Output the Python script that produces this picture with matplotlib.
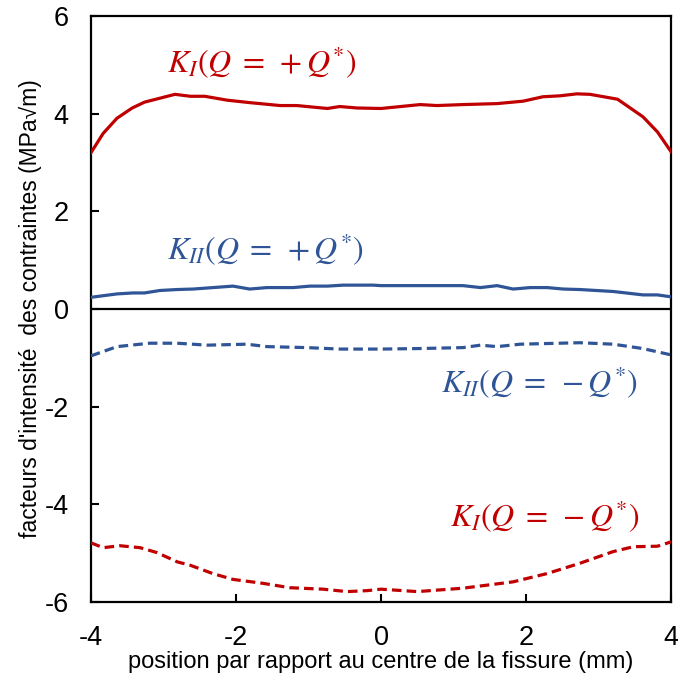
import matplotlib
matplotlib.use("Agg")
import matplotlib.pyplot as plt
import numpy as np

plt.rcParams['font.family'] = ['Liberation Sans', 'DejaVu Sans']
plt.rcParams['mathtext.fontset'] = 'stix'

# K_I (Q = +Q*)
ki_pos_x = [-4.0, -3.83, -3.64, -3.43, -3.26, -3.05, -2.84, -2.63, -2.43, -2.12, -1.81, -1.39,
            -1.16, -0.74, -0.57, -0.33, 0.0, 0.54, 0.77, 1.13, 1.6, 1.96, 2.23, 2.47, 2.70,
            2.88, 3.26, 3.61, 3.81, 4.0]
ki_pos_y = [3.20, 3.60, 3.91, 4.12, 4.24, 4.32, 4.40, 4.36, 4.36, 4.28, 4.23, 4.17,
            4.17, 4.11, 4.15, 4.12, 4.11, 4.19, 4.17, 4.19, 4.21, 4.26, 4.35, 4.37, 4.41,
            4.40, 4.30, 3.94, 3.63, 3.22]

# K_II (Q = +Q*)
kii_pos_x = [-4.0, -3.64, -3.42, -3.26, -3.05, -2.81, -2.59, -2.04, -1.81, -1.57, -1.21, -0.98,
             -0.74, -0.52, -0.11, 0.0, 0.44, 1.13, 1.37, 1.6, 1.82, 2.06, 2.29, 2.51, 2.74,
             3.2, 3.61, 3.81, 4.0]
kii_pos_y = [0.24, 0.31, 0.33, 0.33, 0.38, 0.40, 0.41, 0.47, 0.41, 0.44, 0.44, 0.47,
             0.47, 0.49, 0.49, 0.48, 0.48, 0.48, 0.44, 0.48, 0.41, 0.44, 0.44, 0.41, 0.40,
             0.36, 0.29, 0.29, 0.25]

# K_II (Q = -Q*)
kii_neg_x = [-4.0, -3.64, -3.19, -2.81, -2.4, -1.85, -1.57, -1.02, -0.57, 0.0, 0.5, 1.13,
             1.37, 1.6, 1.92, 2.74, 3.2, 3.61, 4.0]
kii_neg_y = [-0.96, -0.77, -0.70, -0.70, -0.74, -0.72, -0.77, -0.79, -0.82, -0.82, -0.81, -0.79,
             -0.74, -0.77, -0.72, -0.69, -0.72, -0.81, -0.94]

# K_I (Q = -Q*)
ki_neg_x = [-4.0, -3.83, -3.6, -3.32, -3.09, -2.81, -2.63, -2.32, -2.04, -1.63, -1.26, -0.8,
            -0.47, -0.19, 0.0, 0.5, 1.13, 1.82, 2.29, 2.74, 3.2, 3.48, 3.81, 4.0]
ki_neg_y = [-4.79, -4.89, -4.85, -4.89, -4.99, -5.18, -5.25, -5.42, -5.54, -5.62, -5.71, -5.74,
            -5.79, -5.77, -5.74, -5.79, -5.72, -5.59, -5.42, -5.21, -4.97, -4.87, -4.86, -4.77]

x_ticks = [-4, -2, 0, 2, 4]
y_ticks = [-6, -4, -2, 0, 2, 4, 6]

red = '#C00000'
blue = '#2F5597'

fig = plt.figure(figsize=(6.78, 6.77), dpi=100)
ax = fig.add_axes([0.134, 0.111, 0.856, 0.865])

ax.axhline(0, color='black', lw=1.6, zorder=1)
ax.plot(ki_pos_x, ki_pos_y, color=red, lw=2.3, zorder=3)
ax.plot(kii_pos_x, kii_pos_y, color=blue, lw=2.3, zorder=3)
ax.plot(kii_neg_x, kii_neg_y, color=blue, lw=2.3, ls=(0, (3.0, 1.6)), zorder=3)
ax.plot(ki_neg_x, ki_neg_y, color=red, lw=2.3, ls=(0, (3.0, 1.6)), zorder=3)

ax.set_xlim(-4, 4)
ax.set_ylim(-6, 6)
ax.set_xticks(x_ticks)
ax.set_yticks(y_ticks)
ax.set_xticklabels([str(v) for v in x_ticks])
ax.set_yticklabels([str(v) for v in y_ticks])
ax.tick_params(direction='in', length=6, width=1.5, labelsize=19.5)
ax.tick_params(axis='y', pad=16)
ax.tick_params(axis='x', pad=17)
for s in ax.spines.values():
    s.set_linewidth(1.6)

ax.set_xlabel('position par rapport au centre de la fissure (mm)', fontsize=17, labelpad=0)
ax.set_ylabel("facteurs d'intensité  des contraintes (MPa√m)", fontsize=16.5, labelpad=2)

fs = 23
ax.text(-1.64, 5.04, r'$K_I(Q\;=\;+Q^{*})$', color=red, fontsize=fs, ha='center', va='center')
ax.text(-1.59, 1.21, r'$K_{II}(Q\;=\;+Q^{*})$', color=blue, fontsize=fs, ha='center', va='center')
ax.text(2.19, -1.52, r'$K_{II}(Q\;=\;-Q^{*})$', color=blue, fontsize=fs, ha='center', va='center')
ax.text(2.25, -4.26, r'$K_I(Q\;=\;-Q^{*})$', color=red, fontsize=fs, ha='center', va='center')

fig.savefig('out.png', dpi=100)
